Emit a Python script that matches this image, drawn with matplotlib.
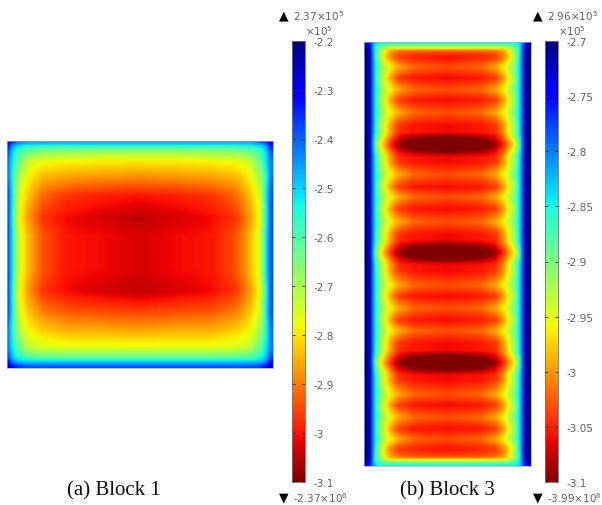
import matplotlib
matplotlib.use("Agg")
import matplotlib.pyplot as plt
import numpy as np

W, H = 602, 506

# block 1, left half of the surface (x1e5), columns at block1_x, rows at block1_y
block1_x = [0, 4, 10, 20, 35, 60, 95, 133]
block1_y = [0, 4, 10, 20, 35, 55, 78, 95, 113, 130, 151, 171, 191, 208, 218, 223, 227]
block1_half = [
    [-2.25, -2.32, -2.38, -2.42, -2.42, -2.42, -2.42, -2.42],
    [-2.32, -2.45, -2.50, -2.53, -2.55, -2.55, -2.55, -2.55],
    [-2.38, -2.50, -2.58, -2.63, -2.66, -2.67, -2.68, -2.68],
    [-2.42, -2.52, -2.62, -2.73, -2.77, -2.78, -2.79, -2.79],
    [-2.42, -2.55, -2.69, -2.78, -2.84, -2.86, -2.87, -2.88],
    [-2.38, -2.53, -2.74, -2.83, -2.92, -2.97, -2.99, -3.00],
    [-2.38, -2.55, -2.76, -2.87, -2.97, -3.01, -3.03, -3.05],
    [-2.38, -2.52, -2.74, -2.84, -2.94, -3.00, -3.01, -3.03],
    [-2.38, -2.52, -2.74, -2.84, -2.94, -3.00, -3.01, -3.03],
    [-2.38, -2.52, -2.74, -2.84, -2.94, -3.00, -3.01, -3.03],
    [-2.38, -2.55, -2.76, -2.87, -2.97, -3.01, -3.03, -3.05],
    [-2.38, -2.53, -2.74, -2.83, -2.90, -2.94, -2.95, -2.96],
    [-2.42, -2.55, -2.69, -2.78, -2.82, -2.85, -2.85, -2.86],
    [-2.42, -2.52, -2.62, -2.72, -2.75, -2.76, -2.76, -2.76],
    [-2.38, -2.48, -2.55, -2.60, -2.61, -2.62, -2.62, -2.62],
    [-2.30, -2.42, -2.47, -2.48, -2.49, -2.49, -2.49, -2.49],
    [-2.25, -2.30, -2.36, -2.38, -2.38, -2.38, -2.38, -2.38],
]

# block 3, left half profiles
block3_x = [0, 5, 9, 14, 20, 26, 34, 50, 83.5]
top0 = [-2.72, -2.76, -2.83, -2.85, -2.86, -2.86, -2.86, -2.86, -2.86]
top1 = [-2.70, -2.74, -2.84, -2.89, -2.92, -2.93, -2.93, -2.93, -2.93]
top2 = [-2.70, -2.73, -2.84, -2.90, -2.96, -3.00, -3.02, -3.03, -3.03]
edge = [-2.68, -2.73, -2.83, -2.91, -2.97, -3.01, -3.04, -3.05, -3.06]
peak = [-2.68, -2.73, -2.83, -2.90, -2.95, -3.00, -3.04, -3.055, -3.06]
low = [-2.68, -2.73, -2.83, -2.89, -2.93, -2.96, -2.99, -3.02, -3.03]
near = [-2.68, -2.73, -2.83, -2.90, -2.95, -3.00, -3.045, -3.055, -3.06]
dark = [-2.68, -2.74, -2.85, -2.95, -3.00, -3.05, -3.09, -3.14, -3.18]

block3_y = [0, 4, 8, 14, 24, 35, 47, 57, 70, 82, 90, 102, 114, 120, 132, 145, 155, 167,
            180, 192, 199, 211, 223, 230, 244, 255, 267, 279, 290, 302, 310, 322, 334,
            340, 354, 365, 377, 389, 399, 409, 417, 421, 424]
block3_half = [top0, top1, top2, edge, low, peak, low, peak, low, peak, near, dark, near,
               peak, low, peak, low, peak, low, peak, near, dark, near,
               peak, low, peak, low, peak, low, peak, near, dark, near,
               peak, low, peak, low, peak, low, edge, top2, top1, top0]

vmin1, vmax1 = -3.1, -2.2
vmin3, vmax3 = -3.1, -2.7
ticks1 = [-2.2, -2.3, -2.4, -2.5, -2.6, -2.7, -2.8, -2.9, -3.0, -3.1]
ticklabels1 = ["-2.2", "-2.3", "-2.4", "-2.5", "-2.6", "-2.7", "-2.8", "-2.9", "-3", "-3.1"]
ticks3 = [-2.7, -2.75, -2.8, -2.85, -2.9, -2.95, -3.0, -3.05, -3.1]
ticklabels3 = ["-2.7", "-2.75", "-2.8", "-2.85", "-2.9", "-2.95", "-3", "-3.05", "-3.1"]

plt.rcParams["font.family"] = ["DejaVu Sans"]
plt.rcParams["mathtext.default"] = "regular"
GREY = "#606060"


def box(x0, y0, x1, y1):
    return [x0 / W, 1 - y1 / H, (x1 - x0) / W, (y1 - y0) / H]


def surface(ax, xs, ys, half, vmin, vmax):
    half = np.array(half)
    z = np.hstack([half, half[:, -2::-1]])
    xs = np.array(xs, dtype=float)
    x = np.concatenate([xs, 2 * xs[-1] - xs[-2::-1]])
    # put the read values on an even raster so imshow can shade it smoothly
    gx = np.arange(0, x[-1] + 2.5, 2.5)
    gy = np.arange(0, ys[-1] + 2.5, 2.5)
    by_col = np.array([np.interp(gx, x, row) for row in z])
    raster = np.array([np.interp(gy, ys, col) for col in by_col.T]).T
    ax.imshow(raster, cmap="jet_r", vmin=vmin, vmax=vmax, aspect="auto",
              interpolation="gaussian", extent=[0, x[-1], ys[-1], 0])
    ax.set_xticks([])
    ax.set_yticks([])
    for s in ax.spines.values():
        s.set_linewidth(0.5)
        s.set_color("#a8a8b8")


def bar(fig, rect, vmin, vmax, ticks, labels):
    cax = fig.add_axes(box(*rect))
    sm = plt.cm.ScalarMappable(norm=plt.Normalize(vmin, vmax), cmap="jet_r")
    cb = fig.colorbar(sm, cax=cax)
    cb.set_ticks(ticks)
    cb.set_ticklabels(labels)
    cax.tick_params(axis="y", direction="in", length=2, width=0.6, left=True, right=True,
                    color="#303030", labelsize=7.5, labelcolor=GREY, pad=6)
    cb.outline.set_linewidth(0.6)
    cb.outline.set_edgecolor("#707070")


def label(fig, x, y, s, size=7.5, ha="left"):
    fig.text(x / W, 1 - y / H, s, fontsize=size, color=GREY, ha=ha, va="center")


fig = plt.figure(figsize=(W / 100, H / 100), dpi=100)

ax1 = fig.add_axes(box(7, 142, 273, 369))
surface(ax1, block1_x, block1_y, block1_half, vmin1, vmax1)
ax3 = fig.add_axes(box(364, 43, 531, 467))
surface(ax3, block3_x, block3_y, block3_half, vmin3, vmax3)

bar(fig, (292, 42, 305, 483), vmin1, vmax1, ticks1, ticklabels1)
bar(fig, (545, 42, 558, 483), vmin3, vmax3, ticks3, ticklabels3)

# max / min annotations
for x_tri, x_txt, x_unit, top, bottom in [
    (284, 293, 305, "2.37×10$^{5}$", "-2.37×10$^{6}$"),
    (538, 547, 558, "2.96×10$^{5}$", "-3.99×10$^{6}$"),
]:
    fig.text(x_tri / W, 1 - 16 / H, "▲", fontsize=9, color="black", ha="center", va="center")
    label(fig, x_txt, 16, top)
    label(fig, x_unit, 31, "×10$^{5}$")
    fig.text(x_tri / W, 1 - 498 / H, "▼", fontsize=9, color="black", ha="center", va="center")
    label(fig, x_txt, 498, bottom)

for x, s in [(114, "(a) Block 1"), (447, "(b) Block 3")]:
    fig.text(x / W, 1 - 491 / H, s, fontsize=15, family="Liberation Serif", color="#111111",
             ha="center", va="center")

fig.savefig("out.png", dpi=100)
